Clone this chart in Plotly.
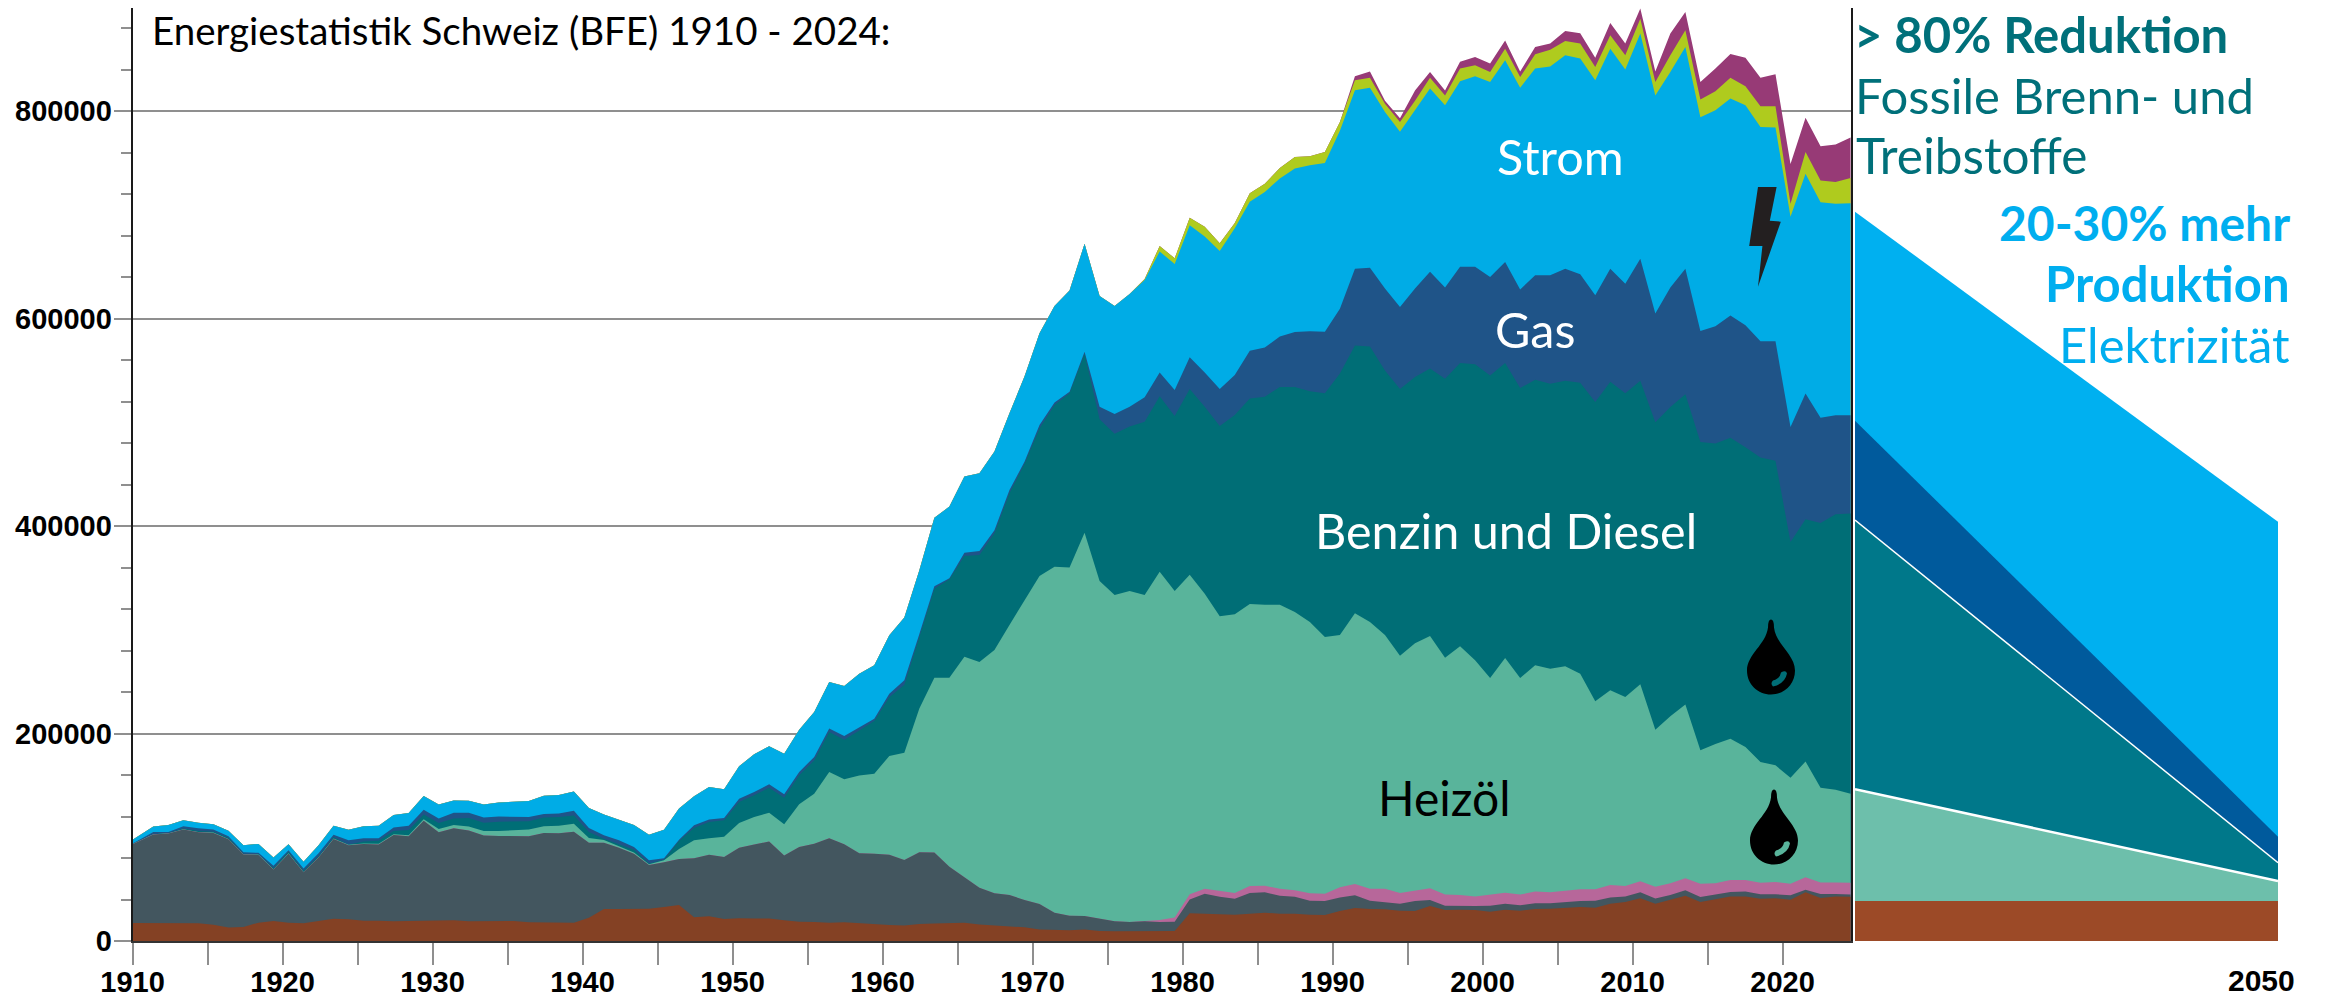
import plotly.graph_objects as go

# ---------- data (thousands of energy units, cumulative tops of the stack) ----------
years = list(range(1910, 2025))

brown_top = [17.4,17.4,17.4,17.4,17,15.7,13,13.5,17.7,19.3,17.7,17,19,21.5,20.9,19.6,19.6,19,19.3,19.6,19.3,19.9,19,19,19,19.3,18,18,17.7,17.7,22.5,30.8,30.8,31.2,31,32.8,34.7,23,23.8,21.2,22,21.8,21.8,20,18.6,18.3,17.7,18,17,16,15.4,15,16.4,16.9,17.3,17.7,16,15,14.5,13.2,11,10.6,10.3,11,9.6,9.3,9.3,9.3,9,9.6,26.7,26,25.7,25.4,26.7,27.3,26.3,26.3,25.4,25,28.9,31.8,30.8,30.5,29.2,29,33.7,30,30.2,30,28.3,30.2,29.2,30.8,31.2,32,32.8,32,36,37.6,41.1,36,39.5,43.7,37.6,40.2,43,43,40.8,41.1,39.8,46.9,41.4,43,42.7]

coal_top = [93.2,102.6,103.5,107.4,104.8,104.2,98,83.3,83,68.8,84.2,66.2,80.4,98.4,92.3,93.6,92.9,102.2,101,116,104.8,108.7,106.4,101.6,101.3,101,101,104.2,103.8,105.4,94.8,94.8,90,84.2,73.3,75.8,79,79.7,83.2,81,90,92.9,96,82.3,90.6,93.8,99,93.2,84.5,84.2,83.2,78,85.5,85.3,71.6,61.4,51.4,46,44.3,39.5,35.7,27.3,24.4,24,21.2,19,18.3,19,18.3,18.6,40,45.6,42.7,40.8,46.3,46.9,43.7,42.7,38.9,38.6,42,44,38.9,37.6,36,38.6,39.5,34,33.7,33.7,34,36,34.4,36.3,36.3,37.6,38.6,38.9,42,43,46.9,41,44.3,49,42.4,44.7,47.2,47.6,45,45,44,49.5,45.3,45.3,44.7]

pink_top = coal_top[:67] + [19.3,20.2,22.6,45,50.4,48.2,46.3,53,53.3,50.4,49,46,45.6,51.7,55,50.4,50.4,46.3,48.8,50.8,44.7,44.3,43,44.7,46.6,44.7,47.6,46.9,48.5,50,49.8,54,53,57.5,52.4,55.6,60.4,55.3,55.6,58.8,58.8,56.2,56.9,55.3,61.4,56.5,56.5,56.2]

heizoel_top = [93.5,102.9,103.8,107.7,105.1,104.5,98.3,83.6,83.3,69.1,84.5,66.5,80.7,98.9,92.8,94,93.8,103,102,117.3,108,111.7,110.4,106,106,106.8,107.5,110.6,111.2,113,99.3,97.4,91.2,85.2,74,77.8,88.7,97,99,100.6,113.7,119.5,123.7,112.5,131.7,142,163,156,159.4,161.3,178.3,181.5,224,253.8,253.8,274,269,280.5,304.6,328.7,351.8,360.8,360,393.6,347,333.5,337.4,333.5,356,337.4,353,334.8,313,315,324.8,324.2,324.2,317,307.5,293,295,316,307.5,295,275,287,294,273,284,270.5,253.5,272.8,253.5,265.7,262.5,264.7,257.7,231,241.6,235.2,247.4,203.7,216.6,228,183.8,190,195,187,172.5,169.3,157.4,173,147.8,145.9,142]

benzin_top = [93.5,103,104,108.4,106,105.4,99.5,84,83.6,70.3,86,67.7,81.8,100,93,96,96.7,106,107,122,113.8,118,118.5,114,115,115,115.5,119,119.5,121,105,98.5,93,88,74.8,78.4,96.4,109,114.7,116.3,134,140.4,147.8,138,159.7,174,201.5,194,203,212,235,247,293,339.6,348.6,371,372,393,431.5,460,494,516.6,528,566,503,489,495.8,500.6,525,506,532,515,496.4,507,523,524.6,534,534,530,528,547,574,573,550,532,543.6,551.7,542,557,556,545,557,533,541,537,540,538,519.5,539,528,540,500,514.7,527,481,479.4,485,476,466,463,384.6,406.6,403,411.4,412]

gas_top = [94,105,105,110.5,108.6,107.4,101,85.5,85,72.5,87.5,70,84.5,102.3,97,99,99,109.5,111,126.5,118,123.5,123.5,119,120,120,119.5,122.5,123,125.5,109,102,97,90.5,77.8,79.7,97.7,111.5,117,118.6,137,143.6,151,141.4,163,177.4,204.7,197.6,206,214.3,238.4,251.3,296,342,349.6,374.3,376,396,434.7,462,497.4,519,529.5,568,515,508,515,524,548,531,562.6,548,532,545.6,569,572,582.6,587,587.7,587.3,609.5,648,649,629,611,629,645,630,650,650,640,654.5,628,641.6,641.6,648,642.6,622.4,648,633.6,657.7,604.7,630,648,588,592.5,603,593.4,578,578,495.4,527.6,504.4,506.7,506.7]

strom_top = [97.7,110.3,111.9,116.4,113.9,112.6,106.2,92.3,93.6,80.4,93.2,76.3,92.3,111.2,107.3,110.6,111.2,121.5,123.4,139.7,131.6,135.5,135.1,131.6,133.6,133.9,134.9,140,140.7,144,128.3,121.9,117,111.9,102.3,107.3,127.6,139.4,148.4,146.2,168.4,180,187.6,180.6,203.7,220.7,249.7,245.8,257.7,265.7,294.6,311.7,357.3,408,418.7,447.6,450.8,471.7,508.6,544,585.7,612,627,672,621.7,612,623.6,637,664.5,652.6,690,679,665,687,712.6,722,735,744.5,747.7,750,781,820,822.5,799,780,800.6,821.6,805.5,828.7,833.5,828,849,822.5,841,843,853.7,850.5,829.6,860,840,874.6,815,837.6,861.7,794,800.7,812,805.5,784.6,784,698,739.6,712,710.7,711]

green_top = strom_top[:67] + [638,670,658,697,688.5,672.5,692,720.7,730,745,755.7,756.5,760.5,789.5,829.6,832,807,789.5,810,832,815,841,844,837.6,860,832.7,854.6,859,867.5,865,842.4,873,853.7,889,828,853.7,877.8,811,819,832,823.8,804.5,804.5,710.7,760.5,733,731.6,735.5]

purple_top = green_top[:81] + [833.5,838,810,793,819.7,837.6,819.7,847.4,852,845.7,868,838,861.7,865,877,875,851.4,884.8,865,898.7,838,874.6,895.4,828,841,855,851.4,832,835.4,749,793.6,766,767.6,774.4]

stack = [
    ("Sonstige", purple_top, "#973A76"),
    ("Erneuerbare", green_top, "#AFCB1E"),
    ("Strom", strom_top, "#00ACE6"),
    ("Gas", gas_top, "#1F5488"),
    ("Benzin und Diesel", benzin_top, "#006E76"),
    ("Heizöl", heizoel_top, "#59B49B"),
    ("Fernwärme", pink_top, "#B7679A"),
    ("Kohle", coal_top, "#43565F"),
    ("Holz", brown_top, "#844124"),
]

# scenario panel 2024 -> 2050
scen_years = [2024, 2050]
scen = [
    ("Elektrizität", [703, 404], "#00B0F0"),
    ("Gas", [501.5, 100.6], "#005A9C"),
    ("Benzin und Diesel", [405.8, 75.5], "#00788A"),
    ("Heizöl", [146.2, 57.8], "#6DBFAB"),
    ("Holz", [38.5, 38.5], "#9C4A27"),
]

y_major = [0, 200000, 400000, 600000, 800000]
decade_labels = list(range(1910, 2030, 10))

# ---------- geometry (pixels of the 2326x998 page) ----------
W, H = 2326, 998
X0, X1 = 132.6, 1851.0
XS0, XS1 = 1855.0, 2278.0
Y0, YT = 941.0, 8.0
PX_PER_YEAR = 15.02
X_RANGE = [1910, 1910 + (X1 - X0) / PX_PER_YEAR]
Y_RANGE = [0, (Y0 - YT) * 800000 / 830]

def fx(p): return p / W
def fy(p): return 1 - p / H
def pt(x, y): return f"{fx(x):.5f},{fy(y):.5f}"

# drawn points sit slightly right of the tick marks; ticks are spaced 15 px per year
xs = [years[0]] + [y + 0.38 for y in years[1:]]
tick_years = list(range(1910, 2025, 5))
tick_pos = [1910 + (t - 1910) * 15 / PX_PER_YEAR for t in tick_years]
tick_txt = [str(t) if t in decade_labels else "" for t in tick_years]

fig = go.Figure()
for name, tops, col in stack:
    assert len(tops) == len(years), (name, len(tops))
    fig.add_trace(go.Scatter(
        x=xs, y=[v * 1000 for v in tops], name=name, mode="lines",
        line=dict(width=0, color=col), fill="tozeroy", fillcolor=col,
        xaxis="x", yaxis="y", showlegend=False))
for name, tops, col in scen:
    fig.add_trace(go.Scatter(
        x=scen_years, y=[v * 1000 for v in tops], name=name, mode="lines",
        line=dict(width=0, color=col), fill="tozeroy", fillcolor=col,
        xaxis="x2", yaxis="y2", showlegend=False))
# white separators in the scenario panel
for idx, w in ((2, 1.5), (3, 2.5)):
    fig.add_trace(go.Scatter(
        x=scen_years, y=[v * 1000 for v in scen[idx][1]], mode="lines",
        line=dict(width=w, color="white"), xaxis="x2", yaxis="y2",
        showlegend=False, hoverinfo="skip"))

# ---------- text ----------
TXT = "Lato"
TEAL = "#00707A"
BLUE = "#00AEEF"
labels = [
    ("Energiestatistik Schweiz (BFE) 1910 - 2024:", 150, 30, "left", 38.5, "black", False),
    ("Strom", 1560, 156, "center", 48.5, "white", False),
    ("Gas", 1535, 329, "center", 48.5, "white", False),
    ("Benzin und Diesel", 1506, 530, "center", 48.5, "white", False),
    ("Heizöl", 1444, 797, "center", 48, "black", False),
    ("> 80% Reduktion", 1852, 34, "left", 49, TEAL, True),
    ("Fossile Brenn- und", 1853, 95, "left", 49, TEAL, False),
    ("Treibstoffe", 1854, 155, "left", 49.5, TEAL, False),
    ("20-30% mehr", 2292, 222, "right", 48, BLUE, True),
    ("Produktion", 2292, 283, "right", 49, BLUE, True),
    ("Elektrizität", 2292, 344, "right", 49, BLUE, False),
]
annotations = [
    dict(text=("<b>%s</b>" % t) if b else t, x=fx(x), y=fy(y), xref="paper", yref="paper",
         xanchor=a, yanchor="middle", showarrow=False,
         font=dict(family=TXT, size=s, color=c))
    for t, x, y, a, s, c, b in labels
]
annotations.append(dict(text="<b>2050</b>", x=2050, y=fy(980), xref="x2", yref="paper", xshift=-17,
                        xanchor="center", yanchor="middle", showarrow=False,
                        font=dict(family="Liberation Sans", size=30, color="black")))

# ---------- icons ----------
def poly(points):
    return "M" + " L".join(pt(x, y) for x, y in points) + " Z"

def drop(cx, yt):
    P = lambda dx, dy: pt(cx + dx, yt + dy)
    return (f"M{P(-3,8)} Q{P(-3,0)} {P(0,0)} Q{P(3,0)} {P(3,8)} "
            f"C{P(5,25)} {P(24,35)} {P(24,51)} C{P(24,65)} {P(13,75)} {P(0,75)} "
            f"C{P(-13,75)} {P(-24,65)} {P(-24,51)} C{P(-24,35)} {P(-5,25)} {P(-3,8)} Z")

def gloss(cx, yt):
    P = lambda dx, dy: pt(cx + dx, yt + dy)
    return (f"M{P(2,67)} Q{P(14,64)} {P(16,54)} Q{P(15,50)} {P(10,53)} "
            f"Q{P(9,59)} {P(2,61)} Q{P(-1,64)} {P(2,67)} Z")

shapes = [dict(type="path", xref="paper", yref="paper", layer="above", line_width=0, fillcolor="#231F20",
               path=poly([(1758, 187), (1776.6, 187), (1769.8, 220.7), (1780.8, 221.7),
                          (1758, 286.7), (1762.4, 246), (1749.2, 246)]))]
for cx, yt, col in ((1771, 619.5, "#006E76"), (1774, 789.5, "#59B49B")):
    shapes.append(dict(type="path", xref="paper", yref="paper", layer="above", line_width=0,
                       fillcolor="black", path=drop(cx, yt)))
    shapes.append(dict(type="path", xref="paper", yref="paper", layer="above", line_width=0,
                       fillcolor=col, path=gloss(cx, yt)))

AX_FONT = dict(family="Liberation Sans", size=29, color="black", weight="bold")
GREY = "#8F8F8F"

fig.update_layout(
    width=W, height=H, autosize=False, template="none",
    margin=dict(l=0, r=0, t=0, b=0),
    paper_bgcolor="white", plot_bgcolor="white",
    showlegend=False,
    annotations=annotations, shapes=shapes,
    xaxis=dict(domain=[fx(X0), fx(X1)], range=X_RANGE, tickmode="array", automargin=False,
               tickvals=tick_pos, ticktext=tick_txt,
               ticks="outside", ticklen=22, tickwidth=2, tickcolor=GREY, ticklabelstandoff=-8,
               tickfont=AX_FONT, tickangle=0, anchor="y",
               showgrid=False, zeroline=False, showline=True, linecolor="#333333", linewidth=2),
    xaxis2=dict(domain=[fx(XS0), fx(XS1)], range=[2024, 2050], anchor="y2", automargin=False,
                showticklabels=False, ticks="", showgrid=False, zeroline=False, showline=False),
    yaxis=dict(domain=[fy(Y0), fy(YT)], range=Y_RANGE, anchor="x", automargin=False,
               tickmode="array", tickvals=y_major, ticktext=[str(v) for v in y_major],
               ticks="outside", ticklen=17, tickwidth=2, tickcolor=GREY, ticklabelstandoff=-4,
               tickfont=AX_FONT,
               showgrid=True, gridcolor=GREY, gridwidth=2, zeroline=False,
               showline=True, linecolor="#1a1a1a", linewidth=2, mirror=True,
               minor=dict(tick0=0, dtick=40000, ticks="outside", ticklen=10, tickwidth=2,
                          tickcolor=GREY, showgrid=False)),
    yaxis2=dict(domain=[fy(Y0), fy(YT)], range=Y_RANGE, anchor="x2", automargin=False,
                showticklabels=False, ticks="", showgrid=False, zeroline=False, showline=False),
)

fig.write_html("out.html", config={"displayModeBar": False},
               post_script="document.body.style.margin='0';document.documentElement.style.overflow='hidden';")
